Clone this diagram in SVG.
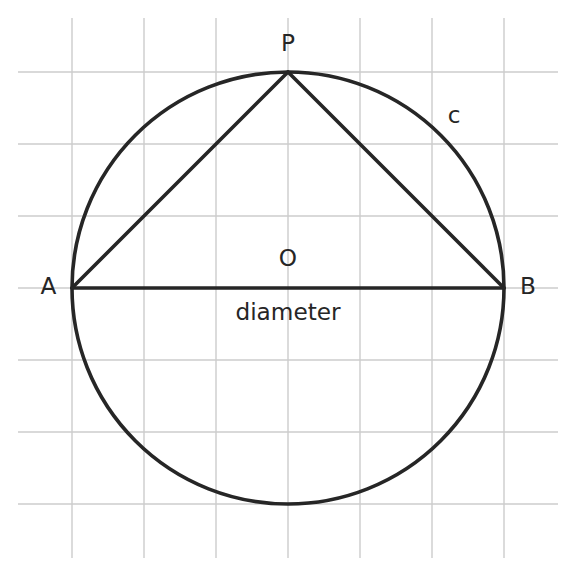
<svg xmlns="http://www.w3.org/2000/svg" width="576" height="576" viewBox="0 0 576 576">
<style>
.grid{stroke:#cccccc;stroke-width:1.4;fill:none}
.ln{stroke:#262626;stroke-width:3.6;fill:none;stroke-linecap:round;stroke-linejoin:round}
.lbl{font-family:"DejaVu Sans",sans-serif;font-size:23.2px;fill:#262626;text-anchor:middle}
</style>
<rect width="576" height="576" fill="#ffffff"/>
<g id="grid" class="grid">
<line x1="72" y1="18" x2="72" y2="558"/>
<line x1="144" y1="18" x2="144" y2="558"/>
<line x1="216" y1="18" x2="216" y2="558"/>
<line x1="288" y1="18" x2="288" y2="558"/>
<line x1="360" y1="18" x2="360" y2="558"/>
<line x1="432" y1="18" x2="432" y2="558"/>
<line x1="504" y1="18" x2="504" y2="558"/>
<line x1="18" y1="72" x2="558" y2="72"/>
<line x1="18" y1="144" x2="558" y2="144"/>
<line x1="18" y1="216" x2="558" y2="216"/>
<line x1="18" y1="288" x2="558" y2="288"/>
<line x1="18" y1="360" x2="558" y2="360"/>
<line x1="18" y1="432" x2="558" y2="432"/>
<line x1="18" y1="504" x2="558" y2="504"/>
</g>
<g id="circle"><circle class="ln" cx="288" cy="288" r="216"/></g>
<g id="connectors" class="ln">
<line x1="72" y1="288" x2="288" y2="72"/>
<line x1="288" y1="72" x2="504" y2="288"/>
<line x1="72" y1="288" x2="504" y2="288"/>
</g>
<g id="labels" class="lbl">
<text x="288" y="50.5">P</text>
<text x="454" y="122.5">c</text>
<text x="288" y="266">O</text>
<text x="48.5" y="293.5">A</text>
<text x="528" y="293.5">B</text>
<text x="288" y="320">diameter</text>
</g>
</svg>
